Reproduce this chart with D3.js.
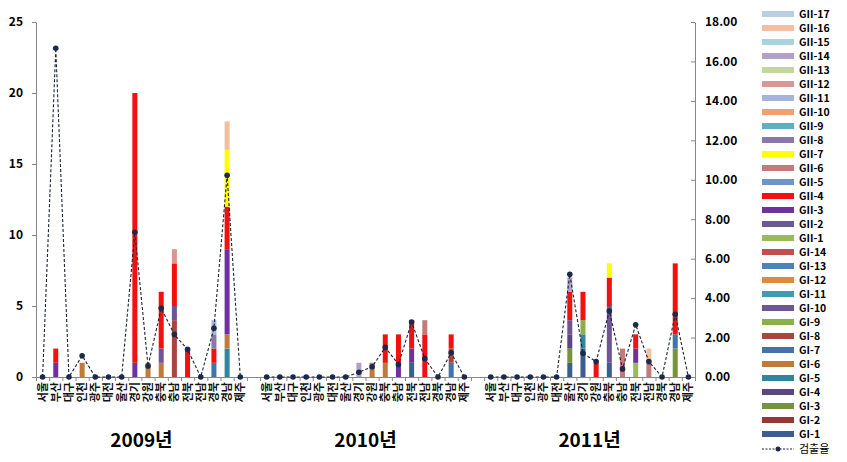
<!DOCTYPE html>
<html><head><meta charset="utf-8">
<script src="https://cdn.jsdelivr.net/npm/d3@7"></script>
<style>
body{margin:0;background:#fff;}
text{font-family:"Noto Sans CJK KR","Noto Sans",sans-serif;}
</style></head>
<body><svg id="c" width="847" height="462"></svg>
<script>
const years = ["2009년","2010년","2011년"];
const regions = ["서울","부산","대구","인천","광주","대전","울산","경기","강원","충북","충남","전북","전남","경북","경남","제주"];
const leftTicks = [0,5,10,15,20,25];
const rightTicks = [0,2,4,6,8,10,12,14,16,18];
// series values: 2009 (16) | 2010 (16) | 2011 (16)
const GI1  = [0,0,0,0,0,0,0,0,0,0,0,0,0,0,0,0, 0,0,0,0,0,0,0,0,0,0,0,1,0,0,0,0, 0,0,0,0,0,0,1,2,0,1,0,0,0,0,0,0];
const GI2  = [0,0,0,0,0,0,0,0,0,0,0,0,0,0,0,0, 0,0,0,0,0,0,0,0,0,0,0,0,0,0,0,0, 0,0,0,0,0,0,0,0,0,0,0,0,0,0,0,0];
const GI3  = [0,0,0,0,0,0,0,0,0,0,0,0,0,0,0,0, 0,0,0,0,0,0,0,0,0,0,0,0,0,0,0,0, 0,0,0,0,0,0,1,0,0,0,0,0,0,0,2,0];
const GI4  = [0,0,0,0,0,0,0,0,0,0,0,0,0,0,0,0, 0,0,0,0,0,0,0,0,0,0,0,0,0,0,0,0, 0,0,0,0,0,0,1,0,0,0,0,0,0,0,0,0];
const GI5  = [0,0,0,0,0,0,0,0,0,0,0,0,0,0,2,0, 0,0,0,0,0,0,0,0,0,0,0,0,0,0,0,0, 0,0,0,0,0,0,0,1,0,0,0,0,0,0,0,0];
const GI6  = [0,0,0,1,0,0,0,0,1,1,0,0,0,0,1,0, 0,0,0,0,0,0,0,0,1,1,0,0,0,0,0,0, 0,0,0,0,0,0,0,0,0,0,0,0,0,0,0,0];
const GI7  = [0,0,0,0,0,0,0,0,0,0,0,0,0,1,0,0, 0,0,0,0,0,0,0,0,0,0,0,0,0,0,1,0, 0,0,0,0,0,0,0,0,0,0,0,0,0,0,1,0];
const GI8  = [0,0,0,0,0,0,0,0,0,0,4,0,0,0,0,0, 0,0,0,0,0,0,0,0,0,0,0,0,0,0,1,0, 0,0,0,0,0,0,0,0,0,0,0,0,0,0,0,0];
const GI9  = [0,0,0,0,0,0,0,0,0,0,0,0,0,0,0,0, 0,0,0,0,0,0,0,0,0,0,0,0,0,0,0,0, 0,0,0,0,0,0,0,1,0,0,0,0,0,0,0,0];
const GI10 = [0,0,0,0,0,0,0,0,0,1,1,0,0,0,0,0, 0,0,0,0,0,0,0,0,0,0,0,0,0,0,0,0, 0,0,0,0,0,0,1,0,0,4,0,0,0,0,0,0];
const GI11 = [0,0,0,0,0,0,0,0,0,0,0,0,0,0,0,0, 0,0,0,0,0,0,0,0,0,0,0,0,0,0,0,0, 0,0,0,0,0,0,0,0,0,0,0,0,0,0,0,0];
const GI12 = [0,0,0,0,0,0,0,0,0,0,0,0,0,0,0,0, 0,0,0,0,0,0,0,0,0,0,0,0,0,0,0,0, 0,0,0,0,0,0,0,0,0,0,0,0,0,0,0,0];
const GI13 = [0,0,0,0,0,0,0,0,0,0,0,0,0,0,0,0, 0,0,0,0,0,0,0,0,0,0,0,0,0,0,0,0, 0,0,0,0,0,0,0,0,0,0,0,0,0,0,0,0];
const GI14 = [0,0,0,0,0,0,0,0,0,0,0,0,0,0,0,0, 0,0,0,0,0,0,0,0,0,0,0,0,0,0,0,0, 0,0,0,0,0,0,0,0,0,0,0,0,0,0,0,0];
const GII1 = [0,0,0,0,0,0,0,0,0,0,0,0,0,0,0,0, 0,0,0,0,0,0,0,0,0,0,0,0,0,0,0,0, 0,0,0,0,0,0,0,0,0,0,0,1,0,0,0,0];
const GII2 = [0,0,0,0,0,0,0,0,0,0,0,0,0,0,0,0, 0,0,0,0,0,0,0,0,0,0,0,0,0,0,0,0, 0,0,0,0,0,0,0,0,0,0,0,0,0,0,0,0];
const GII3 = [0,1,0,0,0,0,0,1,0,0,0,0,0,0,6,0, 0,0,0,0,0,0,0,0,0,0,1,1,0,0,0,0, 0,0,0,0,0,0,0,0,0,0,0,1,0,0,0,0];
const GII4 = [0,1,0,0,0,0,0,19,0,4,3,2,0,1,3,0, 0,0,0,0,0,0,0,0,0,2,2,2,3,0,1,0, 0,0,0,0,0,0,2,2,1,2,0,1,0,0,5,0];
const GII5 = [0,0,0,0,0,0,0,0,0,0,0,0,0,0,0,0, 0,0,0,0,0,0,0,0,0,0,0,0,0,0,0,0, 0,0,0,0,0,0,0,0,0,0,0,0,0,0,0,0];
const GII6 = [0,0,0,0,0,0,0,0,0,0,0,0,0,0,0,0, 0,0,0,0,0,0,0,0,0,0,0,0,1,0,0,0, 0,0,0,0,0,0,0,0,0,0,2,0,1,0,0,0];
const GII7 = [0,0,0,0,0,0,0,0,0,0,0,0,0,0,4,0, 0,0,0,0,0,0,0,0,0,0,0,0,0,0,0,0, 0,0,0,0,0,0,0,0,0,1,0,0,0,0,0,0];
const GII8 = [0,0,0,0,0,0,0,0,0,0,0,0,0,1,0,0, 0,0,0,0,0,0,0,0,0,0,0,0,0,0,0,0, 0,0,0,0,0,0,0,0,0,0,0,0,0,0,0,0];
const GII9 = [0,0,0,0,0,0,0,0,0,0,0,0,0,0,0,0, 0,0,0,0,0,0,0,0,0,0,0,0,0,0,0,0, 0,0,0,0,0,0,0,0,0,0,0,0,0,0,0,0];
const GII10= [0,0,0,0,0,0,0,0,0,0,0,0,0,0,0,0, 0,0,0,0,0,0,0,0,0,0,0,0,0,0,0,0, 0,0,0,0,0,0,0,0,0,0,0,0,0,0,0,0];
const GII11= [0,0,0,0,0,0,0,0,0,0,0,0,0,1,0,0, 0,0,0,0,0,0,0,0,0,0,0,0,0,0,0,0, 0,0,0,0,0,0,0,0,0,0,0,0,0,0,0,0];
const GII12= [0,0,0,0,0,0,0,0,0,0,1,0,0,0,0,0, 0,0,0,0,0,0,0,0,0,0,0,0,0,0,0,0, 0,0,0,0,0,0,0,0,0,0,0,0,0,0,0,0];
const GII13= [0,0,0,0,0,0,0,0,0,0,0,0,0,0,0,0, 0,0,0,0,0,0,0,0,0,0,0,0,0,0,0,0, 0,0,0,0,0,0,0,0,0,0,0,0,0,0,0,0];
const GII14= [0,0,0,0,0,0,0,0,0,0,0,0,0,0,0,0, 0,0,0,0,0,0,0,1,0,0,0,0,0,0,0,0, 0,0,0,0,0,0,1,0,0,0,0,0,0,0,0,0];
const GII15= [0,0,0,0,0,0,0,0,0,0,0,0,0,0,0,0, 0,0,0,0,0,0,0,0,0,0,0,0,0,0,0,0, 0,0,0,0,0,0,0,0,0,0,0,0,0,0,0,0];
const GII16= [0,0,0,0,0,0,0,0,0,0,0,0,0,0,2,0, 0,0,0,0,0,0,0,0,0,0,0,0,0,0,0,0, 0,0,0,0,0,0,0,0,0,0,0,0,1,0,0,0];
const GII17= [0,0,0,0,0,0,0,0,0,0,0,0,0,0,0,0, 0,0,0,0,0,0,0,0,0,0,0,0,0,0,0,0, 0,0,0,0,0,0,0,0,0,0,0,0,0,0,0,0];
// detection rate (right axis)
const rate = [0,16.67,0,1.08,0,0,0,7.34,0.56,3.48,2.16,1.40,0,2.47,10.23,0,
              0,0,0,0,0,0,0,0.24,0.52,1.50,0.64,2.79,0.93,0,1.23,0,
              0,0,0,0,0,0,5.21,1.20,0.78,3.35,0.41,2.65,0.78,0,3.18,0];
const rateName = "검출율";

const seriesNames = ["GI-1","GI-2","GI-3","GI-4","GI-5","GI-6","GI-7","GI-8","GI-9","GI-10","GI-11","GI-12","GI-13","GI-14",
  "GII-1","GII-2","GII-3","GII-4","GII-5","GII-6","GII-7","GII-8","GII-9","GII-10","GII-11","GII-12","GII-13","GII-14","GII-15","GII-16","GII-17"];
const seriesData = [GI1,GI2,GI3,GI4,GI5,GI6,GI7,GI8,GI9,GI10,GI11,GI12,GI13,GI14,
  GII1,GII2,GII3,GII4,GII5,GII6,GII7,GII8,GII9,GII10,GII11,GII12,GII13,GII14,GII15,GII16,GII17];
const seriesColors = ["#3a5f8f","#953735","#77933c","#5c4680","#31859c","#c07a3a","#4372ad","#a9453f","#8ab04a","#6e5596","#3f9cb5","#e08a40","#4f81bd","#c0504d",
  "#9bbb59","#6b5a8e","#7030a0","#f21010","#7093c8","#c47a78","#ffff00","#8a78ab","#5bb0c8","#f2a070","#a4b5da","#d99694","#c4d79b","#b1a0c7","#a9d3de","#f2bfa0","#b9cde5"];

const svg = d3.select("#c");
// category keys with blank gaps between years
const keys = [];
years.forEach((y,yi)=>{ regions.forEach(r=>keys.push(y+"|"+r)); if(yi<years.length-1) keys.push("gap"+yi); });
const dataKeys = [];
years.forEach(y=>regions.forEach(r=>dataKeys.push(y+"|"+r)));

const x = d3.scaleBand().domain(keys).range([36,695]).paddingInner(0.62).paddingOuter(0.31);
const yL = d3.scaleLinear().domain([0,25]).range([377,22]);
const yR = d3.scaleLinear().domain([0,18]).range([377,22]);
const xc = k => x(k) + x.bandwidth()/2;

const rows = dataKeys.map((k,i)=>{ const o={key:k}; seriesNames.forEach((s,j)=>o[s]=seriesData[j][i]); return o; });
const stacked = d3.stack().keys(seriesNames)(rows);

const axisCol = "#868686";
// left axis
const gl = svg.append("g").attr("transform","translate(36,0)")
  .call(d3.axisLeft(yL).tickValues(leftTicks).tickSize(4).tickSizeOuter(0).tickPadding(9));
// right axis
const gr = svg.append("g").attr("transform","translate(695,0)")
  .call(d3.axisRight(yR).tickValues(rightTicks).tickFormat(d3.format(".2f")).tickSizeInner(-4).tickSizeOuter(0).tickPadding(10));
// x axis with boundary ticks
const xb = d3.scaleLinear().domain([0,keys.length]).range([36,695]);
const gx = svg.append("g").attr("transform","translate(0,377)")
  .call(d3.axisBottom(xb).tickValues(d3.range(keys.length+1)).tickFormat("").tickSize(4).tickSizeOuter(0));
[gl,gr,gx].forEach(g=>{ g.selectAll("path,line").attr("stroke",axisCol); g.selectAll("text").attr("fill","#000").style("font-size","12px").style("font-weight","bold"); });

// bars
svg.append("g").selectAll("g").data(stacked).join("g").attr("fill",(d,i)=>seriesColors[i])
  .selectAll("rect").data(d=>d.filter(p=>p[1]>p[0])).join("rect")
  .attr("x",p=>x(p.data.key)).attr("width",x.bandwidth())
  .attr("y",p=>yL(p[1])).attr("height",p=>yL(p[0])-yL(p[1]));

// rate line per year
const line = d3.line().x(d=>xc(d.k)).y(d=>yR(d.v));
years.forEach((y,yi)=>{
  const pts = regions.map((r,ri)=>({k:y+"|"+r, v:rate[yi*16+ri]}));
  svg.append("path").datum(pts).attr("d",line).attr("fill","none").attr("stroke","#1b2236").attr("stroke-width",1.1).attr("stroke-dasharray","3,2");
});
svg.append("g").selectAll("circle").data(dataKeys.map((k,i)=>({k,v:rate[i]}))).join("circle")
  .attr("cx",d=>xc(d.k)).attr("cy",d=>yR(d.v)).attr("r",2.8).attr("fill","#1b2a4a");

// category labels
svg.append("g").selectAll("text").data(dataKeys).join("text")
  .attr("transform",k=>`translate(${xc(k)},382) rotate(-90)`)
  .attr("text-anchor","end").attr("dy","0.36em")
  .style("font-size","11px").style("font-weight","bold").attr("fill","#111")
  .text(k=>k.split("|")[1]);

// year labels
svg.append("g").selectAll("text").data(years).join("text")
  .attr("x",y=>(xc(y+"|"+regions[0])+xc(y+"|"+regions[regions.length-1]))/2)
  .attr("y",447).attr("text-anchor","middle")
  .style("font-size","19px").style("font-weight","bold").attr("fill","#000").text(y=>y);

// legend (top to bottom: GII-17 ... GI-1)
const legOrder = seriesNames.map((s,i)=>i).reverse();
const lg = svg.append("g");
legOrder.forEach((si,r)=>{
  const yy = 14 + r*14;
  lg.append("rect").attr("x",762).attr("y",yy-3).attr("width",32).attr("height",6).attr("fill",seriesColors[si]);
  lg.append("text").attr("x",799).attr("y",yy).attr("dy","0.35em").style("font-size","10.5px").style("font-weight","bold").attr("fill","#000").text(seriesNames[si]);
});
const ry = 14 + seriesNames.length*14 + 1;
lg.append("line").attr("x1",762).attr("x2",794).attr("y1",ry).attr("y2",ry).attr("stroke","#1b2236").attr("stroke-dasharray","2,1.5");
lg.append("circle").attr("cx",778).attr("cy",ry).attr("r",2.5).attr("fill","#1b2a4a");
lg.append("text").attr("x",799).attr("y",ry).attr("dy","0.35em").style("font-size","11px").attr("fill","#000").text(rateName);
</script></body></html>
